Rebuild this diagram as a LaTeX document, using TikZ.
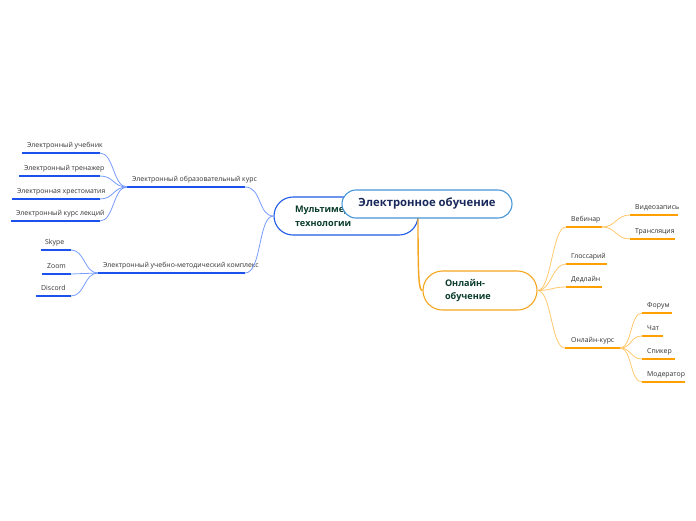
\documentclass[tikz,border=0pt]{standalone}
\usepackage{fontspec}
\setmainfont{Open Sans}
\definecolor{bstrong}{RGB}{28,82,235}
\definecolor{blight}{RGB}{120,155,255}
\definecolor{ostrong}{RGB}{255,160,0}
\definecolor{olight}{RGB}{255,200,110}
\definecolor{bnode}{RGB}{30,90,230}
\definecolor{cnode}{RGB}{70,150,215}
\definecolor{onode}{RGB}{245,165,30}
\definecolor{txt}{RGB}{50,50,50}
\definecolor{green}{RGB}{10,60,45}
\definecolor{navy}{RGB}{25,40,90}
\tikzset{
  lbl/.style={anchor=base west, inner sep=0, text=txt, font=\fontsize{6.9}{7}\selectfont},
  bul/.style={draw=bstrong, line width=2pt},
  oul/.style={draw=ostrong, line width=2pt},
  bcur/.style={draw=blight, line width=0.8pt},
  ocur/.style={draw=olight, line width=0.8pt},
}
\begin{document}
\begin{tikzpicture}[x=1pt,y=-1pt]
\useasboundingbox (0,0) rectangle (696,520);
% ---------- main nodes
\node[draw=bnode, line width=1.1pt, fill=white, rounded corners=19pt, minimum height=38pt,
      text width=102pt, inner xsep=21pt, align=left, text=green,
      font=\bfseries\fontsize{9.1}{13.5}\selectfont] (mt) at (346,216) {Мультимедийные\\технологии};
\node[draw=onode, line width=1.1pt, fill=white, rounded corners=19.5pt, minimum height=39pt,
      text width=70pt, inner xsep=22pt, align=left, text=green,
      font=\bfseries\fontsize{9.1}{12.5}\selectfont] (on) at (480,290.5) {Онлайн-\\обучение};
\coordinate (cb) at (418,218);
\draw[draw=onode, line width=1.4pt] (cb) .. controls (418,282) and (419,290) .. (on.west);
\node[draw=cnode, line width=1.1pt, fill=white, rounded corners=14pt, minimum height=28pt,
      minimum width=170pt, text=navy, font=\bfseries\fontsize{11.3}{12}\selectfont] (ce) at (427,204) {Электронное обучение};

% ---------- left: branch 1
\coordinate (b1s) at (127,187); \coordinate (b1e) at (245,187);
\draw[bul] (b1s) -- (b1e);
\node[lbl] (b1) at (132,181) {Электронный образовательный курс};
\draw[bcur] (b1e) .. controls (262,187) and (258,216) .. (mt.west);

\coordinate (l1s) at (22,153); \coordinate (l1e) at (100,153);
\coordinate (l2s) at (19,176); \coordinate (l2e) at (100,176);
\coordinate (l3s) at (12,199); \coordinate (l3e) at (100,199);
\coordinate (l4s) at (11,221); \coordinate (l4e) at (100,221);
\foreach \i in {1,2,3,4}{
  \draw[bul] (l\i s) -- (l\i e);
  \draw[bcur] (l\i e) .. controls +(14,0) and +(-14,0) .. (b1s);
}
\node[lbl] (t1) at (27,147.5) {Электронный учебник};
\node[lbl] (t2) at (24,170.5) {Электронный тренажер};
\node[lbl] (t3) at (17,193.5) {Электронная хрестоматия};
\node[lbl] (t4) at (16,215.5) {Электронный курс лекций};

% ---------- left: branch 2
\coordinate (b2s) at (98,273); \coordinate (b2e) at (245,273);
\draw[bul] (b2s) -- (b2e);
\node[lbl] (b2) at (103,267) {Электронный учебно-методический комплекс};
\draw[bcur] (b2e) .. controls (262,273) and (258,216) .. (mt.west);

\coordinate (s1s) at (41,250); \coordinate (s1e) at (71,250);
\coordinate (s2s) at (42,274); \coordinate (s2e) at (71,274);
\coordinate (s3s) at (36,296); \coordinate (s3e) at (71,296);
\foreach \i in {1,2,3}{
  \draw[bul] (s\i s) -- (s\i e);
  \draw[bcur] (s\i e) .. controls +(14,0) and +(-14,0) .. (b2s);
}
\node[lbl] (u1) at (45,244.5) {Skype};
\node[lbl] (u2) at (47,268.5) {Zoom};
\node[lbl] (u3) at (41,290.5) {Discord};

% ---------- right
\coordinate (r1s) at (566,227); \coordinate (r1e) at (602,227);
\coordinate (r2s) at (566,264); \coordinate (r2e) at (607,264);
\coordinate (r3s) at (566,287); \coordinate (r3e) at (602,287);
\coordinate (r4s) at (565,348); \coordinate (r4e) at (620,348);
\foreach \i in {1,2,3,4}{
  \draw[oul] (r\i s) -- (r\i e);
  \draw[ocur] (on.east) .. controls +(14,0) and +(-14,0) .. (r\i s);
}
\node[lbl] (v1) at (571,221.5) {Вебинар};
\node[lbl] (v2) at (571,258.5) {Глоссарий};
\node[lbl] (v3) at (571,281.5) {Дедлайн};
\node[lbl] (v4) at (571,342.5) {Онлайн-курс};

\coordinate (w1s) at (630,215); \coordinate (w1e) at (678,215);
\coordinate (w2s) at (630,239); \coordinate (w2e) at (675,239);
\foreach \i in {1,2}{
  \draw[oul] (w\i s) -- (w\i e);
  \draw[ocur] (r1e) .. controls +(14,0) and +(-14,0) .. (w\i s);
}
\node[lbl] (x1) at (635,209.5) {Видеозапись};
\node[lbl] (x2) at (635,233.5) {Трансляция};

\coordinate (k1s) at (642,313); \coordinate (k1e) at (672,313);
\coordinate (k2s) at (642,336); \coordinate (k2e) at (663,336);
\coordinate (k3s) at (642,359); \coordinate (k3e) at (675,359);
\coordinate (k4s) at (642,382); \coordinate (k4e) at (685,382);
\foreach \i in {1,2,3,4}{
  \draw[oul] (k\i s) -- (k\i e);
  \draw[ocur] (r4e) .. controls +(12,0) and +(-12,0) .. (k\i s);
}
\node[lbl] (y1) at (647,307.5) {Форум};
\node[lbl] (y2) at (647,330.5) {Чат};
\node[lbl] (y3) at (647,353.5) {Спикер};
\node[lbl] (y4) at (647,376.5) {Модератор};
\end{tikzpicture}
\end{document}
